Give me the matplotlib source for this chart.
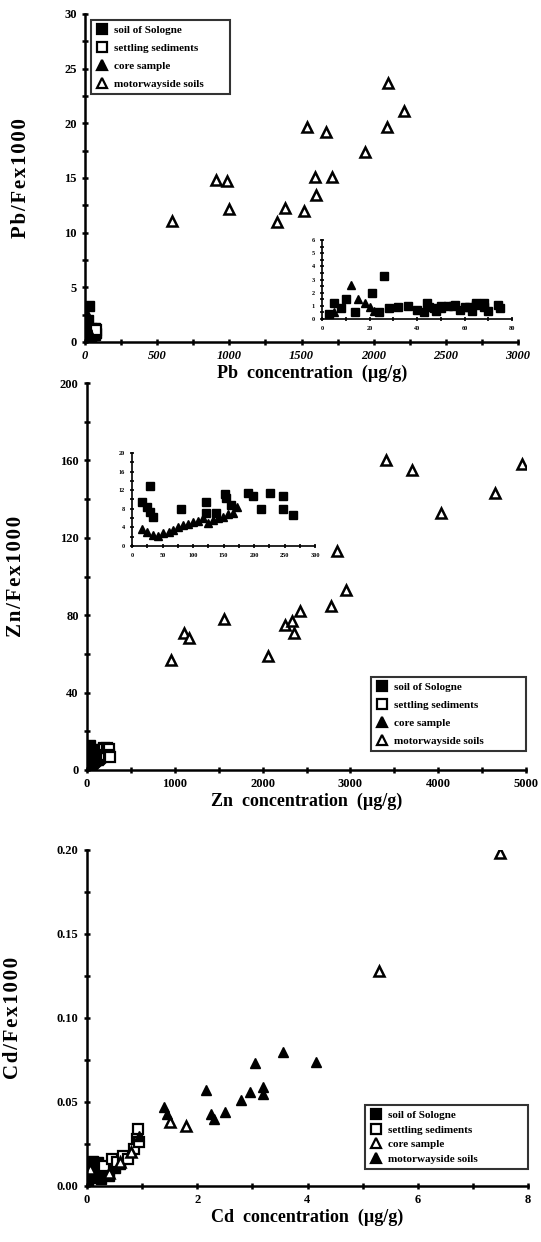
import matplotlib
matplotlib.use('Agg')
import matplotlib.pyplot as plt
from matplotlib.ticker import MultipleLocator, AutoMinorLocator, FormatStrFormatter
from matplotlib.lines import Line2D

plt.rcParams['font.family'] = ['Liberation Serif', 'DejaVu Serif']
plt.rcParams['font.weight'] = 'bold'

W, H = 541, 1242

# ---- Pb panel ----
pb_mw_x = [600, 910, 985, 1000, 1330, 1385, 1520, 1540, 1595, 1600, 1670, 1710, 1940, 2090, 2100, 2210]
pb_mw_y = [11.1, 14.8, 14.7, 12.2, 11.0, 12.3, 12.0, 19.7, 15.1, 13.4, 19.2, 15.1, 17.4, 19.7, 23.7, 21.1]
pb_sol_x = [3, 5, 8, 10, 14, 21, 24, 26, 28, 32, 36, 40, 43, 45, 48, 50, 53, 55, 58, 60, 63, 65, 68, 70, 75]
pb_sol_y = [0.4, 1.2, 0.8, 1.5, 0.5, 2.0, 0.5, 3.3, 0.8, 0.9, 1.0, 0.7, 0.5, 0.9, 0.6, 0.8, 1.0, 1.0, 0.7, 0.9, 0.6, 1.1, 0.9, 0.6, 0.8]
pb_set_x = [44, 47, 50, 56, 62, 65, 68, 74]
pb_set_y = [1.2, 0.8, 1.0, 1.1, 0.9, 1.2, 1.2, 1.1]
pb_core_x = [5, 12, 15, 18, 20, 22]
pb_core_y = [0.5, 2.6, 1.5, 1.2, 0.9, 0.6]

# ---- Zn panel ----
zn_mw_x = [960, 1100, 1160, 1560, 2060, 2260, 2330, 2360, 2430, 2780, 2850, 2950, 3400, 3700, 4030, 4650, 4950]
zn_mw_y = [57, 71, 68, 78, 59, 75, 77, 71, 82, 85, 113, 93, 160, 155, 133, 143, 158]
zn_sol_x = [16, 24, 29, 30, 35, 81, 121, 122, 138, 154, 152, 163]
zn_sol_y = [9.5, 8.4, 12.8, 7.3, 6.3, 8.0, 9.5, 7.1, 7.1, 10.4, 11.1, 8.8]
zn_set_x = [190, 198, 211, 226, 247, 247, 264]
zn_set_y = [11.5, 10.7, 7.9, 11.5, 10.8, 7.9, 6.6]
zn_core_x = [16, 25, 35, 42, 51, 60, 67, 75, 84, 92, 100, 108, 116, 125, 133, 141, 149, 158, 166, 172]
zn_core_y = [3.6, 3.0, 2.4, 2.2, 2.8, 3.0, 3.4, 4.0, 4.5, 4.8, 5.2, 5.4, 6.0, 5.0, 5.6, 6.0, 6.3, 6.8, 7.1, 8.4]

# ---- Cd panel ----
cd_sol_x = [0.02, 0.05, 0.08, 0.1, 0.12, 0.15, 0.2, 0.25, 0.3, 0.35, 0.4, 0.5, 0.55, 0.6]
cd_sol_y = [0.002, 0.008, 0.012, 0.015, 0.005, 0.010, 0.014, 0.004, 0.008, 0.012, 0.006, 0.011, 0.015, 0.013]
cd_set_x = [0.3, 0.45, 0.55, 0.65, 0.75, 0.85, 0.9, 0.92, 0.95]
cd_set_y = [0.012, 0.016, 0.014, 0.018, 0.016, 0.022, 0.028, 0.034, 0.026]
cd_core_x = [0.05, 0.4, 0.6, 0.8, 1.5, 1.8, 5.3, 7.5]
cd_core_y = [0.010, 0.008, 0.014, 0.020, 0.038, 0.036, 0.128, 0.198]
cd_mw_x = [0.95, 1.4, 1.45, 2.15, 2.25, 2.3, 2.5, 2.8, 2.95, 3.05, 3.2, 3.2, 3.55, 4.15]
cd_mw_y = [0.030, 0.047, 0.043, 0.057, 0.043, 0.040, 0.044, 0.051, 0.056, 0.073, 0.055, 0.059, 0.080, 0.074]

labels = ['soil of Sologne', 'settling sediments', 'core sample', 'motorwayside soils']


def box(l, t, r, b):
	return [l / W, 1 - b / H, (r - l) / W, (b - t) / H]


def spaced(s):
	return '\u200a'.join(s)


def style(ax, lw=1.8, size=9, ticklen=5):
	for s in ('top', 'right'):
		ax.spines[s].set_visible(False)
	for s in ('left', 'bottom'):
		ax.spines[s].set_linewidth(lw)
	ax.xaxis.set_minor_locator(AutoMinorLocator(2))
	ax.yaxis.set_minor_locator(AutoMinorLocator(2))
	ax.tick_params(which='major', direction='inout', length=ticklen, width=lw, labelsize=size)
	ax.tick_params(which='minor', direction='inout', length=ticklen * 0.8, width=lw)


def handle(marker, filled):
	return Line2D([], [], ls='none', marker=marker, ms=7, mec='black', mew=1.6,
	              mfc='black' if filled else 'white')


def legend(ax, handles, rect, spacing):
	# rect in pixels: left, top, right, bottom
	l, t, r, b = rect
	inv = ax.transAxes.inverted()
	x0, y0 = inv.transform((l, H - b))
	x1, y1 = inv.transform((r, H - t))
	leg = ax.legend(handles=handles, labels=labels, loc='upper left', mode='expand',
	                bbox_to_anchor=(x0, y0, x1 - x0, y1 - y0), frameon=True,
	                fancybox=False, edgecolor='black', handlelength=1.0, handletextpad=0.6,
	                borderpad=0.45, labelspacing=spacing, borderaxespad=0,
	                prop={'family': 'Liberation Serif', 'size': 8, 'weight': 'bold'})
	leg.get_frame().set_linewidth(1.5)


def labels_xy(ax, xl, yl, ypos, xc=0.5):
	ax.set_xlabel(xl, fontsize=13, fontweight='bold', labelpad=2)
	ax.xaxis.label.set_x(xc)
	ax.set_ylabel(spaced(yl), fontsize=15, fontweight='bold')
	ax.yaxis.set_label_coords(ypos, 0.5)


fig = plt.figure(figsize=(W / 100, H / 100), dpi=100)

ms = 7
# ---------------- panel 1: Pb ----------------
ax1 = fig.add_axes(box(85, 14, 518, 342))
ax1.plot(pb_sol_x, pb_sol_y, 's', color='black', ms=ms)
ax1.plot(pb_set_x, pb_set_y, 's', mfc='white', mec='black', mew=1.6, ms=ms)
ax1.plot(pb_core_x, pb_core_y, '^', color='black', ms=ms)
ax1.plot(pb_mw_x, pb_mw_y, '^', mfc='white', mec='black', mew=1.8, ms=ms)
ax1.set_xlim(0, 3000)
ax1.set_ylim(0, 30)
ax1.xaxis.set_major_locator(MultipleLocator(500))
ax1.yaxis.set_major_locator(MultipleLocator(5))
style(ax1)
for t in ax1.get_xticklabels():
	t.set_fontstyle('italic')
labels_xy(ax1, 'Pb  concentration  (\u00b5g/g)', 'Pb/Fex1000', -0.125, 0.525)
legend(ax1, [handle('s', True), handle('s', False), handle('^', True), handle('^', False)],
       (91, 20, 230, 97), 0.75)

in1 = fig.add_axes(box(322, 240, 512, 319))
in1.plot(pb_sol_x, pb_sol_y, 's', color='black', ms=5.5)
in1.plot(pb_set_x, pb_set_y, 's', color='black', ms=5.5)
in1.plot(pb_core_x, pb_core_y, '^', color='black', ms=6)
in1.set_xlim(0, 80)
in1.set_ylim(0, 6)
in1.xaxis.set_major_locator(MultipleLocator(20))
in1.yaxis.set_major_locator(MultipleLocator(1))
style(in1, lw=1.2, size=4.5, ticklen=3)

# ---------------- panel 2: Zn ----------------
ax2 = fig.add_axes(box(87, 383, 526, 770))
ax2.plot(zn_sol_x, zn_sol_y, 's', color='black', ms=ms)
ax2.plot(zn_core_x, zn_core_y, '^', color='black', ms=ms)
ax2.plot(zn_set_x, zn_set_y, 's', mfc='white', mec='black', mew=1.6, ms=ms)
ax2.plot(zn_mw_x, zn_mw_y, '^', mfc='white', mec='black', mew=1.8, ms=ms)
ax2.set_xlim(0, 5000)
ax2.set_ylim(0, 200)
ax2.xaxis.set_major_locator(MultipleLocator(1000))
ax2.yaxis.set_major_locator(MultipleLocator(40))
style(ax2)
labels_xy(ax2, 'Zn  concentration  (\u00b5g/g)', 'Zn/Fex1000', -0.14)
legend(ax2, [handle('s', True), handle('s', False), handle('^', True), handle('^', False)],
       (371, 677, 526, 755), 0.75)

in2 = fig.add_axes(box(132, 453, 315, 546))
in2.plot(zn_sol_x, zn_sol_y, 's', color='black', ms=5.5)
in2.plot(zn_set_x, zn_set_y, 's', color='black', ms=5.5)
in2.plot(zn_core_x, zn_core_y, '^', color='black', ms=6)
in2.set_xlim(0, 300)
in2.set_ylim(0, 20)
in2.xaxis.set_major_locator(MultipleLocator(50))
in2.yaxis.set_major_locator(MultipleLocator(4))
style(in2, lw=1.2, size=4.5, ticklen=3)

# ---------------- panel 3: Cd ----------------
ax3 = fig.add_axes(box(87, 850, 528, 1186))
ax3.plot(cd_sol_x, cd_sol_y, 's', color='black', ms=ms)
ax3.plot(cd_set_x, cd_set_y, 's', mfc='white', mec='black', mew=1.6, ms=ms)
ax3.plot(cd_core_x, cd_core_y, '^', mfc='white', mec='black', mew=1.8, ms=ms)
ax3.plot(cd_mw_x, cd_mw_y, '^', color='black', ms=ms)
ax3.set_xlim(0, 8)
ax3.set_ylim(0, 0.2)
ax3.xaxis.set_major_locator(MultipleLocator(2))
ax3.yaxis.set_major_locator(MultipleLocator(0.05))
ax3.yaxis.set_major_formatter(FormatStrFormatter('%.2f'))
style(ax3)
labels_xy(ax3, 'Cd  concentration  (\u00b5g/g)', 'Cd/Fex1000', -0.145)
legend(ax3, [handle('s', True), handle('s', False), handle('^', False), handle('^', True)],
       (365, 1105, 528, 1170), 0.45)

fig.savefig('out.png', dpi=100)
